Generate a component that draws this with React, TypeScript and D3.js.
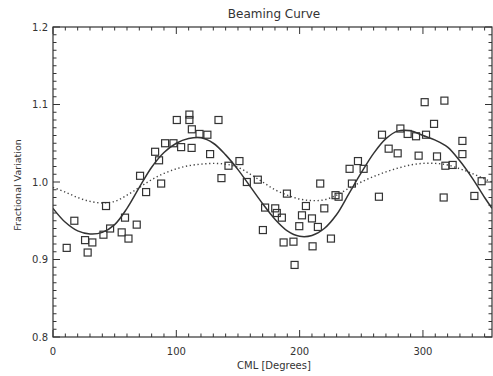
import React from "react";
import * as d3 from "d3";

const title = "Beaming Curve";
const xTitle = "CML [Degrees]";
const yTitle = "Fractional Variation";
const xTicks = [0, 100, 200, 300];
const yTicks = [0.8, 0.9, 1.0, 1.1, 1.2];

const obsCml = [11.1, 17.3, 26.0, 28.1, 31.9, 40.9, 43.0, 46.3, 55.7, 58.4, 61.2, 67.9, 70.6, 75.5, 82.8, 86.0, 87.7, 90.9, 97.7, 100.4, 103.9, 110.6, 110.6, 112.6, 112.4,
  118.8, 125.2, 134.2, 127.4, 142.3, 151.2, 136.6, 157.2, 166.1, 189.7, 172.0, 180.2, 181.5, 185.6, 170.2, 187.0, 195.0, 195.9, 199.7, 201.9, 205.1, 210.0, 210.5, 214.8, 216.7, 220.0, 225.4, 229.1,
  231.6, 242.4, 240.5, 247.3, 251.9, 264.3, 266.8, 272.2, 279.5, 281.7, 287.6, 294.4, 302.5, 296.5, 301.4, 317.4, 309.0, 311.4, 318.2, 324.1, 332.0, 332.0, 316.8, 341.7, 347.6];
const obsVar = [0.915, 0.950, 0.925, 0.909, 0.922, 0.932, 0.969, 0.940, 0.935, 0.954, 0.927, 0.945, 1.008, 0.987, 1.039, 1.028, 0.998, 1.050, 1.050, 1.080, 1.045, 1.087, 1.080, 1.068, 1.044,
  1.062, 1.061, 1.080, 1.036, 1.021, 1.027, 1.005, 1.000, 1.003, 0.985, 0.967, 0.966, 0.960, 0.954, 0.938, 0.922, 0.923, 0.893, 0.943, 0.957, 0.969, 0.953, 0.917, 0.942, 0.998, 0.966, 0.927, 0.983,
  0.981, 0.998, 1.017, 1.027, 1.017, 0.981, 1.061, 1.043, 1.037, 1.069, 1.062, 1.059, 1.061, 1.034, 1.103, 1.105, 1.075, 1.033, 1.021, 1.022, 1.053, 1.036, 0.980, 0.982, 1.001];

const curveCml = [0, 10, 20, 30, 40, 50, 60, 70, 80, 90, 100, 110, 120, 130, 140, 150, 160, 170, 180, 190, 200, 210, 220, 230, 240, 250, 260, 270, 280, 290, 300, 310, 320, 330, 340, 350, 356];
const fitSolid = [0.966, 0.948, 0.937, 0.933, 0.935, 0.945, 0.966, 0.993, 1.019, 1.038, 1.050, 1.056, 1.057, 1.050, 1.035, 1.016, 0.994, 0.972, 0.952, 0.937, 0.930, 0.931, 0.940, 0.958, 0.985, 1.012, 1.037, 1.056, 1.066, 1.066, 1.060, 1.054, 1.045, 1.027, 1.005, 0.980, 0.966];
const fitDotted = [0.993, 0.987, 0.980, 0.975, 0.973, 0.975, 0.983, 0.993, 1.003, 1.011, 1.017, 1.021, 1.023, 1.024, 1.023, 1.019, 1.010, 1.000, 0.990, 0.983, 0.978, 0.976, 0.977, 0.983, 0.992, 1.000, 1.007, 1.013, 1.018, 1.022, 1.024, 1.024, 1.022, 1.017, 1.011, 1.004, 1.000];

const W = 493, H = 376;
const L = 53, R = 492, T = 27, B = 337;
const ink = "#333";
const font = "DejaVu Sans, sans-serif";

export default function App() {
  const x = d3.scaleLinear().domain([0, 356]).range([L, R]);
  const y = d3.scaleLinear().domain([0.8, 1.2]).range([B, T]);
  const line = (vals: number[]) =>
    d3.line<number>().x((_, i) => x(curveCml[i])).y((v) => y(v)).curve(d3.curveCatmullRom)(vals) || "";

  const xMinor = d3.range(0, 360, 10);
  const yMinor = d3.range(0, 41).map((i) => 0.8 + i * 0.01);
  const big = 7, small = 3.5;

  return (
    <svg width={W} height={H} style={{ position: "absolute", left: 0, top: 0, background: "#fff" }}>
      <defs>
        <clipPath id="plot"><rect x={L} y={T} width={R - L} height={B - T} /></clipPath>
      </defs>
      <g clipPath="url(#plot)">
        <path d={line(fitDotted)} fill="none" stroke="#444" strokeWidth={1.4} strokeDasharray="1.3,2.6" />
        <path d={line(fitSolid)} fill="none" stroke={ink} strokeWidth={1.5} />
        {obsCml.map((c, i) => (
          <rect key={i} x={x(c) - 3.5} y={y(obsVar[i]) - 3.5} width={7} height={7} fill="none" stroke={ink} strokeWidth={1.2} />
        ))}
      </g>
      <rect x={L} y={T} width={R - L} height={B - T} fill="none" stroke={ink} strokeWidth={1.2} />
      {xMinor.map((v) => {
        const major = v % 100 === 0;
        const len = major ? big : small;
        return (
          <g key={"x" + v} stroke={ink} strokeWidth={1}>
            <line x1={x(v)} x2={x(v)} y1={B} y2={B - len} />
            <line x1={x(v)} x2={x(v)} y1={T} y2={T + len} />
          </g>
        );
      })}
      {yMinor.map((v, i) => {
        const major = i % 10 === 0;
        const len = major ? big : small;
        return (
          <g key={"y" + i} stroke={ink} strokeWidth={1}>
            <line x1={L} x2={L + len} y1={y(v)} y2={y(v)} />
            <line x1={R} x2={R - len} y1={y(v)} y2={y(v)} />
          </g>
        );
      })}
      {xTicks.map((v) => (
        <text key={"xt" + v} x={x(v)} y={355} textAnchor="middle" fontFamily={font} fontSize={10} fill={ink}>{v}</text>
      ))}
      {yTicks.map((v) => (
        <text key={"yt" + v} x={48} y={y(v) + 3.5} textAnchor="end" fontFamily={font} fontSize={10} fill={ink}>{v.toFixed(1)}</text>
      ))}
      <text x={274} y={18} textAnchor="middle" fontFamily={font} fontSize={12} fill={ink}>{title}</text>
      <text x={274} y={369} textAnchor="middle" fontFamily={font} fontSize={10} fill={ink}>{xTitle}</text>
      <text transform={`translate(21,${185}) rotate(-90)`} textAnchor="middle" fontFamily={font} fontSize={9.5} fill={ink}>{yTitle}</text>
    </svg>
  );
}
